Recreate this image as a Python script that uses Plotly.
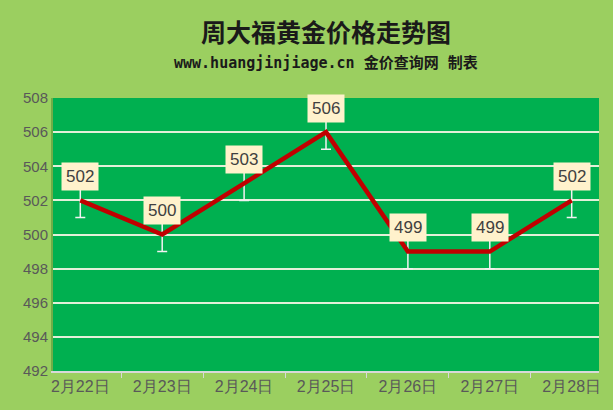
import plotly.graph_objects as go

categories = ["2月22日", "2月23日", "2月24日", "2月25日", "2月26日", "2月27日", "2月28日"]
prices = [502, 500, 503, 506, 499, 499, 502]
errors = [1, 1, 1, 1, 1, 1, 1]
y_ticks = [492, 494, 496, 498, 500, 502, 504, 506, 508]

fig = go.Figure()
fig.add_trace(go.Scatter(
    x=categories, y=prices, mode="lines",
    line=dict(color="#C00000", width=4.5),
    error_y=dict(type="data", array=errors, color="#F2F2F2", thickness=1.5, width=5),
    hoverinfo="skip", showlegend=False,
))

for c, v in zip(categories, prices):
    fig.add_annotation(
        x=c, y=v, text=str(v), showarrow=False, yshift=24,
        bgcolor="#FFF2CC", borderpad=4,
        font=dict(family="Liberation Sans, Arial", size=17, color="#404040"),
    )

fig.add_annotation(
    text="<b>周大福黄金价格走势图</b>", x=0.5, y=1, xref="paper", yref="paper",
    yanchor="bottom", yshift=47, showarrow=False,
    font=dict(family="Noto Sans CJK SC", size=25, color="#1a1a1a"),
)
fig.add_annotation(
    text="<b>www.huangjinjiage.cn 金价查询网 制表</b>", x=0.5, y=1, xref="paper", yref="paper",
    yanchor="bottom", yshift=24, showarrow=False,
    font=dict(family="DejaVu Sans Mono, Noto Sans CJK SC", size=15, color="#1a1a1a"),
)

fig.update_layout(
    width=613, height=410,
    margin=dict(l=53, r=12, t=98, b=39),
    paper_bgcolor="#9BCF60",
    plot_bgcolor="#00B050",
)
fig.update_xaxes(
    type="category", showgrid=False, ticks="outside", tickson="boundaries",
    ticklen=5, tickcolor="#D9D9D9", showline=True, linecolor="#D9D9D9", linewidth=2,
    tickfont=dict(family="Liberation Sans, Arial", size=16, color="#595959"),
)
fig.update_yaxes(
    range=[492, 508], tickvals=y_ticks, showgrid=True, gridcolor="#E2F0D9", gridwidth=2,
    zeroline=False, showline=True, linecolor="#70AD47", linewidth=2,
    tickfont=dict(family="Liberation Sans, Arial", size=15, color="#595959"),
)

fig.write_html("out.html", config={"displayModeBar": False},
               post_script="document.body.style.margin='0';")
